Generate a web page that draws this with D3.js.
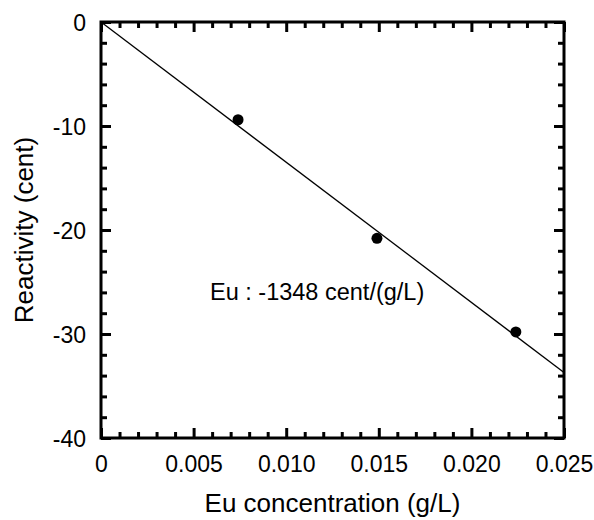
<!DOCTYPE html>
<html>
<head>
<meta charset="utf-8">
<script src="https://cdn.jsdelivr.net/npm/d3@7"></script>
<style>
html,body{margin:0;padding:0;background:#fff;}
svg{display:block;}
text{font-family:"Liberation Sans",Arial,Helvetica,sans-serif;fill:#000;}
</style>
</head>
<body>
<svg id="chart" width="594" height="520"></svg>
<script>
// Data
const concentration = [0.0074, 0.0149, 0.0224];   // g/L
const reactivity = [-9.4, -20.8, -29.8];          // cent
const fitSlope = -1348;                            // cent/(g/L)
const fitRange = [0, 0.025];
const xTicks = [0, 0.005, 0.010, 0.015, 0.020, 0.025];
const xTickLabels = ["0", "0.005", "0.010", "0.015", "0.020", "0.025"];
const yTicks = [0, -10, -20, -30, -40];
const yTickLabels = ["0", "-10", "-20", "-30", "-40"];
const annotation = "Eu : -1348 cent/(g/L)";
const xTitle = "Eu concentration (g/L)";
const yTitle = "Reactivity (cent)";

const svg = d3.select("#chart");
const L = 101, R = 564, T = 22, B = 438;
const x = d3.scaleLinear().domain([0, 0.025]).range([L, R]);
const y = d3.scaleLinear().domain([-40, 0]).range([B, T]);

const tickW = 3, majorLen = 10, minorLen = 6;
const xMinor = d3.range(0, 26).map(i => i * 0.001).filter((v, i) => i % 5 !== 0);
const yMinor = d3.range(0, 21).map(i => -i * 2).filter((v, i) => i % 5 !== 0);

const g = svg.append("g");

// bottom axis (inward ticks)
const xb = g.append("g").attr("transform", `translate(0,${B})`);
xb.call(d3.axisBottom(x).tickValues(xTicks).tickSize(-majorLen).tickFormat((d, i) => xTickLabels[i]).tickPadding(0));
xb.select(".domain").remove();
xb.selectAll(".tick line").attr("stroke", "#000").attr("stroke-width", tickW);
xb.selectAll(".tick text").attr("font-size", "23px").attr("y", 34).attr("dy", 0);
xb.append("g").call(d3.axisBottom(x).tickValues(xMinor).tickSize(-minorLen).tickFormat(""))
  .call(s => s.select(".domain").remove())
  .selectAll("line").attr("stroke", "#000").attr("stroke-width", tickW);

// top axis
const xt = g.append("g").attr("transform", `translate(0,${T})`);
xt.call(d3.axisTop(x).tickValues(xTicks).tickSize(-majorLen).tickFormat(""));
xt.append("g").call(d3.axisTop(x).tickValues(xMinor).tickSize(-minorLen).tickFormat(""));
xt.selectAll(".domain").remove();
xt.selectAll("line").attr("stroke", "#000").attr("stroke-width", tickW);

// left axis
const yl = g.append("g").attr("transform", `translate(${L},0)`);
yl.call(d3.axisLeft(y).tickValues(yTicks).tickSize(-majorLen).tickFormat((d, i) => yTickLabels[i]).tickPadding(0));
yl.select(".domain").remove();
yl.selectAll(".tick line").attr("stroke", "#000").attr("stroke-width", tickW);
yl.selectAll(".tick text").attr("font-size", "23px").attr("x", -15).attr("dy", "0.35em");
yl.append("g").call(d3.axisLeft(y).tickValues(yMinor).tickSize(-minorLen).tickFormat(""))
  .call(s => s.select(".domain").remove())
  .selectAll("line").attr("stroke", "#000").attr("stroke-width", tickW);

// right axis
const yr = g.append("g").attr("transform", `translate(${R},0)`);
yr.call(d3.axisRight(y).tickValues(yTicks).tickSize(-majorLen).tickFormat(""));
yr.append("g").call(d3.axisRight(y).tickValues(yMinor).tickSize(-minorLen).tickFormat(""));
yr.selectAll(".domain").remove();
yr.selectAll("line").attr("stroke", "#000").attr("stroke-width", tickW);

// frame
g.append("rect").attr("x", L).attr("y", T).attr("width", R - L).attr("height", B - T)
  .attr("fill", "none").attr("stroke", "#000").attr("stroke-width", 3);

// fit line
const line = d3.line().x(d => x(d)).y(d => y(fitSlope * d));
g.append("path").datum(fitRange).attr("d", line)
  .attr("fill", "none").attr("stroke", "#000").attr("stroke-width", 1.3);

// points
g.selectAll("circle.pt").data(concentration).enter().append("circle")
  .attr("class", "pt")
  .attr("cx", d => x(d)).attr("cy", (d, i) => y(reactivity[i])).attr("r", 5.5)
  .attr("fill", "#000");

// annotation
g.append("text").attr("x", 210).attr("y", 300).attr("font-size", "23.5px").text(annotation);

// axis titles
g.append("text").attr("x", (L + R) / 2).attr("y", 512).attr("text-anchor", "middle")
  .attr("font-size", "26px").text(xTitle);
g.append("text").attr("transform", `translate(33,${(T + B) / 2}) rotate(-90)`)
  .attr("text-anchor", "middle").attr("font-size", "26px").text(yTitle);
</script>
</body>
</html>
